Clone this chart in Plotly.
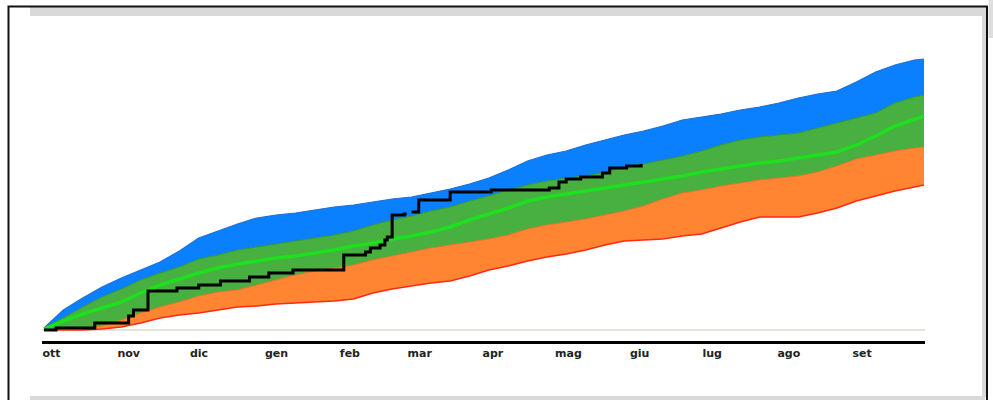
import pandas as pd
import plotly.graph_objects as go

# ---- data (cumulative values, mm) ----
day = [0, 8, 16, 24, 32, 40, 48, 56, 64, 72, 80, 88, 96, 104, 112, 120, 128, 136, 144, 152,
       160, 168, 176, 184, 192, 200, 208, 216, 224, 232, 240, 248, 256, 264, 272, 280, 288,
       296, 304, 312, 320, 328, 336, 344, 352, 360, 364]

p_max = [10, 100, 160, 215, 260, 300, 340, 395, 460, 495, 530, 560, 575, 585, 600, 615, 625,
         640, 655, 665, 685, 705, 730, 760, 800, 845, 875, 895, 925, 950, 975, 995, 1020, 1050,
         1065, 1080, 1100, 1115, 1135, 1160, 1180, 1195, 1240, 1290, 1325, 1350, 1355]

p_high = [10, 60, 115, 165, 205, 250, 285, 315, 355, 375, 400, 415, 430, 445, 460, 475, 495,
          525, 550, 570, 595, 615, 645, 670, 700, 725, 745, 760, 770, 790, 815, 830, 850, 870,
          895, 925, 950, 965, 975, 985, 1010, 1035, 1060, 1085, 1135, 1165, 1175]

p_median = [5, 45, 80, 110, 140, 185, 225, 255, 285, 310, 330, 345, 360, 370, 385, 400, 420,
            435, 455, 470, 490, 515, 550, 580, 610, 645, 665, 680, 695, 710, 725, 740, 755, 770,
            790, 805, 820, 835, 845, 860, 875, 890, 925, 970, 1020, 1055, 1070]

p_low = [0, 0, 5, 20, 50, 85, 115, 140, 170, 190, 200, 225, 250, 275, 295, 310, 325, 350, 370,
         390, 410, 425, 440, 455, 475, 505, 525, 540, 555, 575, 595, 620, 655, 685, 700, 720,
         735, 750, 760, 770, 790, 820, 855, 875, 895, 910, 915]

p_min = [0, 0, 0, 5, 15, 35, 60, 75, 85, 100, 115, 120, 130, 135, 140, 145, 155, 185, 205, 220,
         235, 245, 270, 300, 320, 345, 365, 380, 400, 425, 445, 450, 455, 470, 480, 510, 540,
         565, 565, 565, 585, 610, 645, 670, 695, 715, 725]

cur_day = [0, 5, 21, 35, 37, 43, 55, 61, 64, 73, 85, 93, 103, 124, 133, 135, 139, 141, 142,
           144, 149, 150, 151, 152, 155, 168, 185, 209, 213, 216, 222, 231, 234, 241, 247]
cur_val = [0, 10, 35, 70, 100, 195, 210, 210, 225, 245, 265, 285, 300, 375, 390, 410, 425,
           450, 465, 575, 580, 580, None, 590, 650, 690, 700, 710, 740, 755, 765, 785, 810,
           820, 830]

month_labels = ["ott", "nov", "dic", "gen", "feb", "mar", "apr", "mag", "giu", "lug", "ago", "set"]
month_starts = ["2021-10-01", "2021-11-01", "2021-12-01", "2022-01-01", "2022-02-01",
                "2022-03-01", "2022-04-01", "2022-05-01", "2022-06-01", "2022-07-01",
                "2022-08-01", "2022-09-01"]

base = pd.Timestamp("2021-10-01")
xd = [base + pd.Timedelta(days=d) for d in day]
xc = [base + pd.Timedelta(days=d) for d in cur_day]

fig = go.Figure()
fig.add_trace(go.Scatter(x=xd, y=p_min, mode="lines", line=dict(color="#ff2a10", width=1.6),
                         hoverinfo="skip", showlegend=False))
fig.add_trace(go.Scatter(x=xd, y=p_low, mode="lines", line=dict(color="#e8702a", width=1),
                         fill="tonexty", fillcolor="#ff8533", showlegend=False))
fig.add_trace(go.Scatter(x=xd, y=p_high, mode="lines", line=dict(color="#2f9a30", width=1),
                         fill="tonexty", fillcolor="#47b040", showlegend=False))
fig.add_trace(go.Scatter(x=xd, y=p_max, mode="lines", line=dict(color="#1f6fd0", width=1.2),
                         fill="tonexty", fillcolor="#0a80ff", showlegend=False))
fig.add_trace(go.Scatter(x=xd, y=p_median, mode="lines", line=dict(color="#1ee01e", width=3.5),
                         showlegend=False))
fig.add_trace(go.Scatter(x=xc, y=cur_val, mode="lines", line=dict(color="#000000", width=3, shape="hv"),
                         connectgaps=False, showlegend=False))

W, H = 993, 400
L, R, T, B = 42, 68, 30, 59
PW, PH = W - L - R, H - T - B


def fx(px):
    return (px - L) / PW


def fy(py):
    return (H - B - py) / PH


shapes = [
    dict(type="rect", xref="paper", yref="paper", x0=fx(30), x1=fx(986), y0=fy(16), y1=fy(7),
         fillcolor="#d9d9d9", line=dict(width=0), layer="below"),
    dict(type="rect", xref="paper", yref="paper", x0=fx(982), x1=fx(986), y0=fy(397), y1=fy(16),
         fillcolor="#d9d9d9", line=dict(width=0), layer="below"),
    dict(type="rect", xref="paper", yref="paper", x0=fx(30), x1=fx(985), y0=fy(402), y1=fy(396),
         fillcolor="#d9d9d9", line=dict(width=0), layer="below"),
    dict(type="rect", xref="paper", yref="paper", x0=fx(988.5), x1=fx(995), y0=fy(38), y1=fy(-2),
         fillcolor="#dedede", line=dict(width=0), layer="below"),
    dict(type="rect", xref="paper", yref="paper", x0=fx(8.5), x1=fx(987), y0=fy(404), y1=fy(6.5),
         fillcolor="rgba(0,0,0,0)", line=dict(color="#111111", width=2)),
]

fig.update_layout(
    width=W, height=H,
    margin=dict(l=L, r=R, t=T, b=B),
    paper_bgcolor="white", plot_bgcolor="white",
    shapes=shapes,
    xaxis=dict(
        type="date",
        range=[base - pd.Timedelta(hours=20), base + pd.Timedelta(days=364, hours=10)],
        tickvals=month_starts, ticktext=month_labels,
        ticklabelposition="outside right",
        ticklabelshift=-3,
        showgrid=False, zeroline=False,
        showline=True, linecolor="black", linewidth=3,
        ticks="", 
        tickfont=dict(family="DejaVu Sans", size=11, color="#222222", weight="bold"),
    ),
    yaxis=dict(
        range=[-55, 1500],
        showticklabels=False, showgrid=False,
        zeroline=True, zerolinecolor="#e4e4dc", zerolinewidth=2,
        showline=False, ticks="",
    ),
)

fig.write_html("out.html", config={"displayModeBar": False},
               post_script="document.body.style.margin='0px';document.body.style.overflow='hidden';")
